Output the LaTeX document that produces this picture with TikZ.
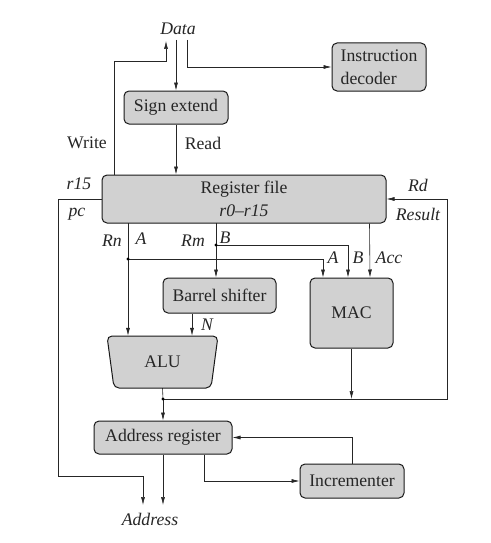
\documentclass[tikz,border=0pt]{standalone}
\usepackage{fontspec}
\setmainfont{Liberation Serif}
\usetikzlibrary{arrows.meta,calc}
\newcommand\fsz{\fontsize{17.7}{23}\selectfont}
\begin{document}
\begin{tikzpicture}[x=1pt,y=-1pt,
  box/.style={draw=black!90, line width=1pt, fill=black!18, rounded corners=5pt, inner sep=0pt, font=\fsz, text=black!85},
  shapefill/.style={draw=black!90, line width=1pt, fill=black!18, rounded corners=5pt},
  lbl/.style={inner sep=0pt, font=\fsz, text=black!85},
  ilbl/.style={inner sep=0pt, font=\fsz\itshape, text=black!85},
  wire/.style={line width=0.6pt, draw=black!85},
  arr/.style={wire, -{Latex[length=8pt,width=4pt]}}]
\fill[white] (0,0) rectangle (490,543);
\useasboundingbox (0,0) rectangle (490,543);

% boxes
\node[box, minimum width=104pt, minimum height=33pt] (sign) at (176,107.5) {Sign extend};
\node[box, minimum width=94pt, minimum height=48pt, align=left] (dec) at (379,67) {Instruction\\decoder};
\node[box, minimum width=284pt, minimum height=48pt, align=center] (reg) at (244,199) {Register file\\\textit{r0--r15}};
\node[box, minimum width=113pt, minimum height=35pt] (bar) at (219.5,295.5) {Barrel shifter};
\node[box, minimum width=83pt, minimum height=70pt] (mac) at (351.5,313) {MAC};
\draw[shapefill] (107,336) -- (218,336) -- (211,388) -- (114,388) -- cycle;
\node[lbl, minimum width=111pt, minimum height=52pt] (alu) at (162.5,362) {ALU};
\node[box, minimum width=138pt, minimum height=33pt] (areg) at (163,437.5) {Address register};
\node[box, minimum width=104pt, minimum height=34pt] (inc) at (352,481) {Incrementer};

% free texts
\node[ilbl] (data) at (178,29) {Data};
\node[ilbl] (addr) at (150,519) {Address};
\node[lbl] (wlab) at (87,143) {Write};
\node[lbl] (rlab) at (203,143) {Read};
\node[ilbl] (r15) at (79,184) {r15};
\node[ilbl] (pc) at (77,214) {pc};
\node[ilbl] (rd) at (418,185) {Rd};
\node[ilbl] (res) at (418,214) {Result};
\node[ilbl] (rnl) at (112,241) {Rn};
\node[ilbl] (al) at (141,239) {A};
\node[ilbl] (rml) at (193,241) {Rm};
\node[ilbl] (bl) at (225,238) {B};
\node[ilbl] (a2) at (333,258) {A};
\node[ilbl] (b2) at (358,258) {B};
\node[ilbl] (acc) at (389,258) {Acc};
\node[ilbl] (nl) at (207,325) {N};

% named free ends
\coordinate (dw) at (166,41);
\coordinate (dd) at (176,40);
\coordinate (di) at (187,40);
\coordinate (pcend) at (143,505);
\coordinate (aend) at (163,505);
\coordinate (j) at (163,399);
\coordinate (rn) at (128,223);
\coordinate (rnj) at (128,259);
\coordinate (rm) at (216,223);
\coordinate (rmj) at (216,245);

% connectors
\draw[arr] ([xshift=13pt]reg.north west) |- (166,61) -- (dw);
\draw[arr] (sign.north |- dd) -- (sign.north);
\draw[arr] (di) |- (dec.west);
\draw[arr] (sign.south) -- (sign.south |- reg.north);
\draw[arr] (reg.west) -| (58,476) -| (pcend);
\draw[arr] (areg.south) -- (aend);
\draw[wire] (alu.south) -- (j);
\draw[arr] (j) -- (areg.north);
\draw[arr] (j) -- (447,399) |- (reg.east);
\draw[arr] (mac.south) -- (mac.south |- j);
\fill (j) circle (1.6pt);
\draw[arr] (rn) -- (rn |- alu.north);
\draw[arr] (rnj) -| ([xshift=-28.5pt]mac.north);
\fill (rnj) circle (1.6pt);
\draw[arr] (rm) -- (rm |- bar.north);
\draw[arr] (rmj) -| ([xshift=-3.5pt]mac.north);
\fill (rmj) circle (1.6pt);
\draw[arr] ([xshift=268pt]reg.south west) -- ([xshift=18.5pt]mac.north);
\draw[arr] ([xshift=-27.5pt]bar.south) -- ([xshift=-27.5pt]bar.south |- alu.north);
\draw[arr] ([xshift=41pt]areg.south) |- (inc.west);
\draw[arr] (inc.north) |- (areg.east);
\end{tikzpicture}
\end{document}
